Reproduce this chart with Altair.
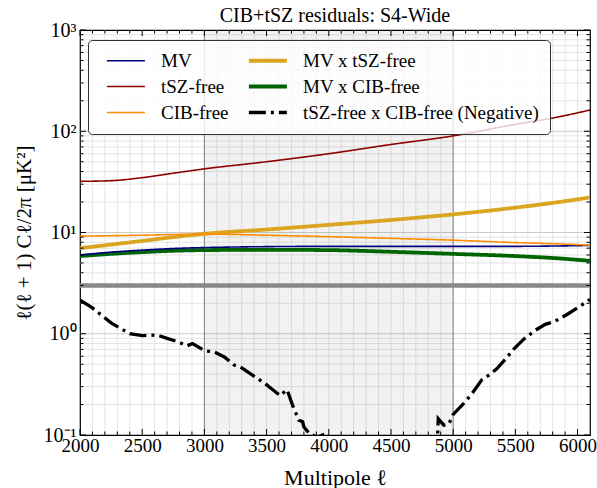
import altair as alt
import pandas as pd

# ---------------- data ----------------
ell = [2000, 2250, 2500, 2750, 3000, 3500, 4000, 4500, 5000, 5500, 5800, 6100]
mv = [6.0, 6.4, 6.7, 6.95, 7.1, 7.25, 7.3, 7.3, 7.3, 7.3, 7.35, 7.45]
tsz_free = [32.0, 32.5, 34.8, 38.5, 42.5, 50.0, 60.0, 74.0, 90.0, 117.0, 135.0, 162.0]
cib_free = [9.2, 9.3, 9.4, 9.55, 9.65, 9.4, 9.1, 8.75, 8.4, 7.95, 7.75, 7.5]
mv_x_tsz = [7.0, 7.6, 8.25, 9.0, 9.7, 10.7, 11.9, 13.3, 15.1, 17.6, 19.6, 22.2]
mv_x_cib = [5.85, 6.15, 6.4, 6.6, 6.7, 6.75, 6.7, 6.45, 6.15, 5.85, 5.6, 5.25]

ell_neg = [2000, 2100, 2250, 2400, 2500, 2620, 2700, 2790, 2860, 2905, 2960, 3000,
           3080, 3160, 3240, 3290, 3360, 3430, 3490, 3550, 3610, 3665, 3710, 3760,
           3790, 3800, 3840, 3900, 3950, 4000, 4850, 4875, 4880, 4925, 4965, 5000,
           5085, 5150, 5230, 5300, 5350, 5420, 5485, 5565, 5660, 5740, 5810, 5915,
           6020, 6100]
neg_cross = [2.15, 1.8, 1.28, 1.0, 0.96, 0.97, 0.90, 0.83, 0.76, 0.8, 0.73, 0.68,
             0.66, 0.59, 0.49, 0.47, 0.41, 0.36, 0.32, 0.28, 0.245, 0.28, 0.195, 0.14,
             0.135, 0.12, 0.105, 0.095, 0.1, 0.05, 0.05, 0.1, 0.145, 0.125, 0.128, 0.16,
             0.205, 0.255, 0.35, 0.40, 0.45, 0.56, 0.70, 0.88, 1.08, 1.24, 1.31, 1.55,
             1.87, 2.18]

noise_level = [3.0]
region = [3000, 5000]

names = ["MV", "tSZ-free", "CIB-free", "MV x tSZ-free", "MV x CIB-free",
         "tSZ-free x CIB-free (Negative)"]
colors = {"MV": "#00007f", "tSZ-free": "#8b0000", "CIB-free": "#ff8c00",
          "MV x tSZ-free": "#daa520", "MV x CIB-free": "#006400",
          "tSZ-free x CIB-free (Negative)": "#000000"}
widths = {"MV": 1.6, "tSZ-free": 1.6, "CIB-free": 1.6, "MV x tSZ-free": 3.8,
          "MV x CIB-free": 3.8, "tSZ-free x CIB-free (Negative)": 3.3}
dashes = {"MV": [1, 0], "tSZ-free": [1, 0], "CIB-free": [1, 0], "MV x tSZ-free": [1, 0],
          "MV x CIB-free": [1, 0], "tSZ-free x CIB-free (Negative)": [17, 5, 3, 5]}

x_major = list(range(2000, 6001, 500))
x_minor = [v for v in range(2100, 6100, 100) if v % 500 != 0]
y_major = [0.1, 1, 10, 100, 1000]
y_minor = [k * 10.0 ** e for e in (-1, 0, 1, 2) for k in range(2, 10)]

# ---------------- tables ----------------
rows = []
for nm, vals in zip(names[:5], [mv, tsz_free, cib_free, mv_x_tsz, mv_x_cib]):
    for l, v in zip(ell, vals):
        rows.append({"series": nm, "ell": l, "val": v})
for l, v in zip(ell_neg, neg_cross):
    rows.append({"series": names[5], "ell": l, "val": v})
df = pd.DataFrame(rows)

W, H = 510, 405
FONT = "Liberation Serif"

xs = alt.Scale(domain=[2000, 6100], nice=False, zero=False)
ys = alt.Scale(type="log", domain=[0.1, 1000], nice=False)

xaxis = alt.Axis(values=x_major, title="Multipole ℓ", format="d", labelFontSize=19,
                 titleFontSize=22, labelPadding=1, titlePadding=12, labelFlush=False,
                 labelOverlap=False)
yaxis = alt.Axis(values=y_major, title="ℓ(ℓ + 1) Cℓ/2π [μK²]", labelFontSize=20,
                 titleFontSize=21, labelPadding=4, titlePadding=9, labelFlush=False,
                 labelOverlap=False,
                 labelExpr="datum.value >= 999 ? '10³' : datum.value >= 99 ? '10²' : "
                           "datum.value >= 9 ? '10¹' : datum.value >= 0.9 ? '10⁰' : '10⁻¹'")

X = alt.X("ell:Q", scale=xs, axis=xaxis)
Y = alt.Y("val:Q", scale=ys, axis=yaxis)

legend = alt.Legend(title=None, orient="none", legendX=8, legendY=10, columns=2,
                    symbolType="M-0.3,0H6.7", symbolSize=118, labelFont=FONT,
                    labelFontSize=19, labelLimit=400, labelOffset=43,
                    columnPadding=12, rowPadding=6, padding=11,
                    fillColor="rgba(255,255,255,0.8)", strokeColor="#333333",
                    cornerRadius=4)

color = alt.Color("series:N", scale=alt.Scale(domain=names,
                  range=[colors[n] for n in names]), legend=legend)
swidth = alt.StrokeWidth("series:N", scale=alt.Scale(type="ordinal", domain=names,
                         range=[widths[n] for n in names]), legend=legend)
sdash = alt.StrokeDash("series:N", scale=alt.Scale(domain=names,
                       range=[dashes[n] for n in names]), legend=legend)

# grid
grid_x = alt.Chart(pd.DataFrame({"ell": x_minor + x_major[1:]})).mark_rule(
    color="#e2e2e2", strokeWidth=0.9).encode(x=X)
grid_y_minor = alt.Chart(pd.DataFrame({"val": y_minor})).mark_rule(
    color="#e2e2e2", strokeWidth=0.9).encode(y=Y)
grid_y_major = alt.Chart(pd.DataFrame({"val": y_major[1:-1]})).mark_rule(
    color="#cccccc", strokeWidth=1.2).encode(y=Y)

shade = alt.Chart(pd.DataFrame({"ell": [region[0]], "ell2": [region[1]]})).mark_rect(
    color="black", opacity=0.05).encode(x=X, x2="ell2:Q", y=alt.value(0), y2=alt.value(H))
vlines = alt.Chart(pd.DataFrame({"ell": region})).mark_rule(
    color="#808080", strokeWidth=1).encode(x=X)
hline = alt.Chart(pd.DataFrame({"val": noise_level})).mark_rule(
    color="#888888", strokeWidth=4.5).encode(y=Y)

lines = [
    alt.Chart(df).transform_filter(alt.datum.series == nm).mark_line(
        clip=True, interpolate="monotone" if nm != names[5] else "linear",
        strokeCap="butt").encode(x=X, y=Y, color=color, strokeWidth=swidth,
                                 strokeDash=sdash)
    for nm in [names[4], names[3], names[0], names[1], names[2], names[5]]
]

# ticks (inward, all four sides)
def xticks(vals, length):
    d = pd.DataFrame({"ell": vals})
    b = alt.Chart(d).mark_rule(color="black", strokeWidth=1).encode(
        x=X, y=alt.value(H), y2=alt.value(H - length))
    t = alt.Chart(d).mark_rule(color="black", strokeWidth=1).encode(
        x=X, y=alt.value(0), y2=alt.value(length))
    return [b, t]

def yticks(vals, length):
    d = pd.DataFrame({"val": vals})
    l = alt.Chart(d).mark_rule(color="black", strokeWidth=1).encode(
        y=Y, x=alt.value(0), x2=alt.value(length))
    r = alt.Chart(d).mark_rule(color="black", strokeWidth=1).encode(
        y=Y, x=alt.value(W), x2=alt.value(W - length))
    return [l, r]

ticks = xticks(x_major, 6) + xticks(x_minor, 3.5) + yticks(y_major, 6) + yticks(y_minor, 3.5)

chart = alt.layer(
    grid_x, grid_y_minor, grid_y_major, shade, vlines, hline, *lines, *ticks
).properties(
    width=W, height=H,
    title=alt.Title("CIB+tSZ residuals: S4-Wide", font=FONT, fontSize=20,
                    fontWeight="normal", offset=8, dy=14, anchor="middle",
                    frame="group", color="black"),
    autosize="none",
    background="white",
    padding={"left": 80, "top": 30, "right": 7, "bottom": 53},
).configure_view(
    stroke="black", strokeWidth=1.2
).configure_axis(
    grid=False, ticks=False, domain=False, labelFont=FONT, titleFont=FONT,
    titleFontWeight="normal", labelColor="black", titleColor="black"
)

chart.save("out.html", embed_options={"renderer": "svg", "actions": False})
